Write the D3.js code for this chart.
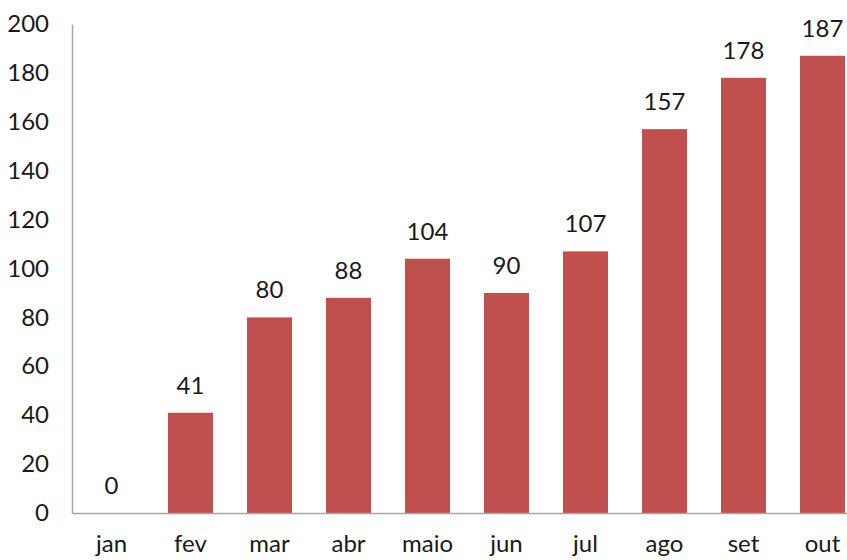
<!DOCTYPE html>
<html>
<head>
<meta charset="utf-8">
<script src="https://cdn.jsdelivr.net/npm/d3@7"></script>
<style>
  body { margin: 0; background: #fff; }
  svg { display: block; }
  text { font-family: Lato, "Open Sans", sans-serif; fill: #1a1a1a; }
</style>
</head>
<body>
<div id="chart"></div>
<script>
const months = ['jan', 'fev', 'mar', 'abr', 'maio', 'jun', 'jul', 'ago', 'set', 'out']
const values = [0, 41, 80, 88, 104, 90, 107, 157, 178, 187]
const yTicks = [0, 20, 40, 60, 80, 100, 120, 140, 160, 180, 200]

const chartWidth = 847
const chartHeight = 560
const plotLeft = 72
const plotBottom = 513
const plotTop = 24

const svg = d3.select('#chart')
  .append('svg')
  .attr('width', chartWidth)
  .attr('height', chartHeight)

const x = d3.scaleBand()
  .domain(months)
  .range([plotLeft, plotLeft + 790])
  .paddingInner(0.43)
  .paddingOuter(0.215)

const y = d3.scaleLinear()
  .domain([0, 200])
  .range([plotBottom, plotTop])

// y axis
const yAxis = svg.append('g')
  .attr('transform', `translate(${plotLeft},0)`)
  .call(d3.axisLeft(y).tickValues(yTicks).tickSize(0).tickPadding(23))
yAxis.select('.domain').attr('stroke', '#a6a6a6').attr('stroke-width', 1.5)
yAxis.selectAll('text')
  .style('font-size', '24px')
  .style('font-family', 'Lato, sans-serif')
  .attr('fill', '#1a1a1a')

// bars
svg.append('g')
  .selectAll('rect')
  .data(values)
  .join('rect')
  .attr('x', (d, i) => x(months[i]))
  .attr('width', x.bandwidth())
  .attr('y', d => y(d))
  .attr('height', d => plotBottom - y(d))
  .attr('fill', '#c0504d')

// x axis, labels kept just inside the bottom edge
const xAxis = svg.append('g')
  .attr('transform', `translate(0,${plotBottom})`)
  .call(d3.axisBottom(x).tickSize(0).tickPadding(22))
xAxis.select('.domain').attr('stroke', '#a6a6a6').attr('stroke-width', 1.5)
xAxis.selectAll('text')
  .style('font-size', '24px')
  .style('font-family', 'Lato, sans-serif')
  .attr('fill', '#1a1a1a')

// value labels
svg.append('g')
  .selectAll('text')
  .data(values)
  .join('text')
  .attr('x', (d, i) => x(months[i]) + x.bandwidth() / 2)
  .attr('y', d => y(d) - 19)
  .attr('text-anchor', 'middle')
  .style('font-size', '24px')
  .text(d => d)
</script>
</body>
</html>
